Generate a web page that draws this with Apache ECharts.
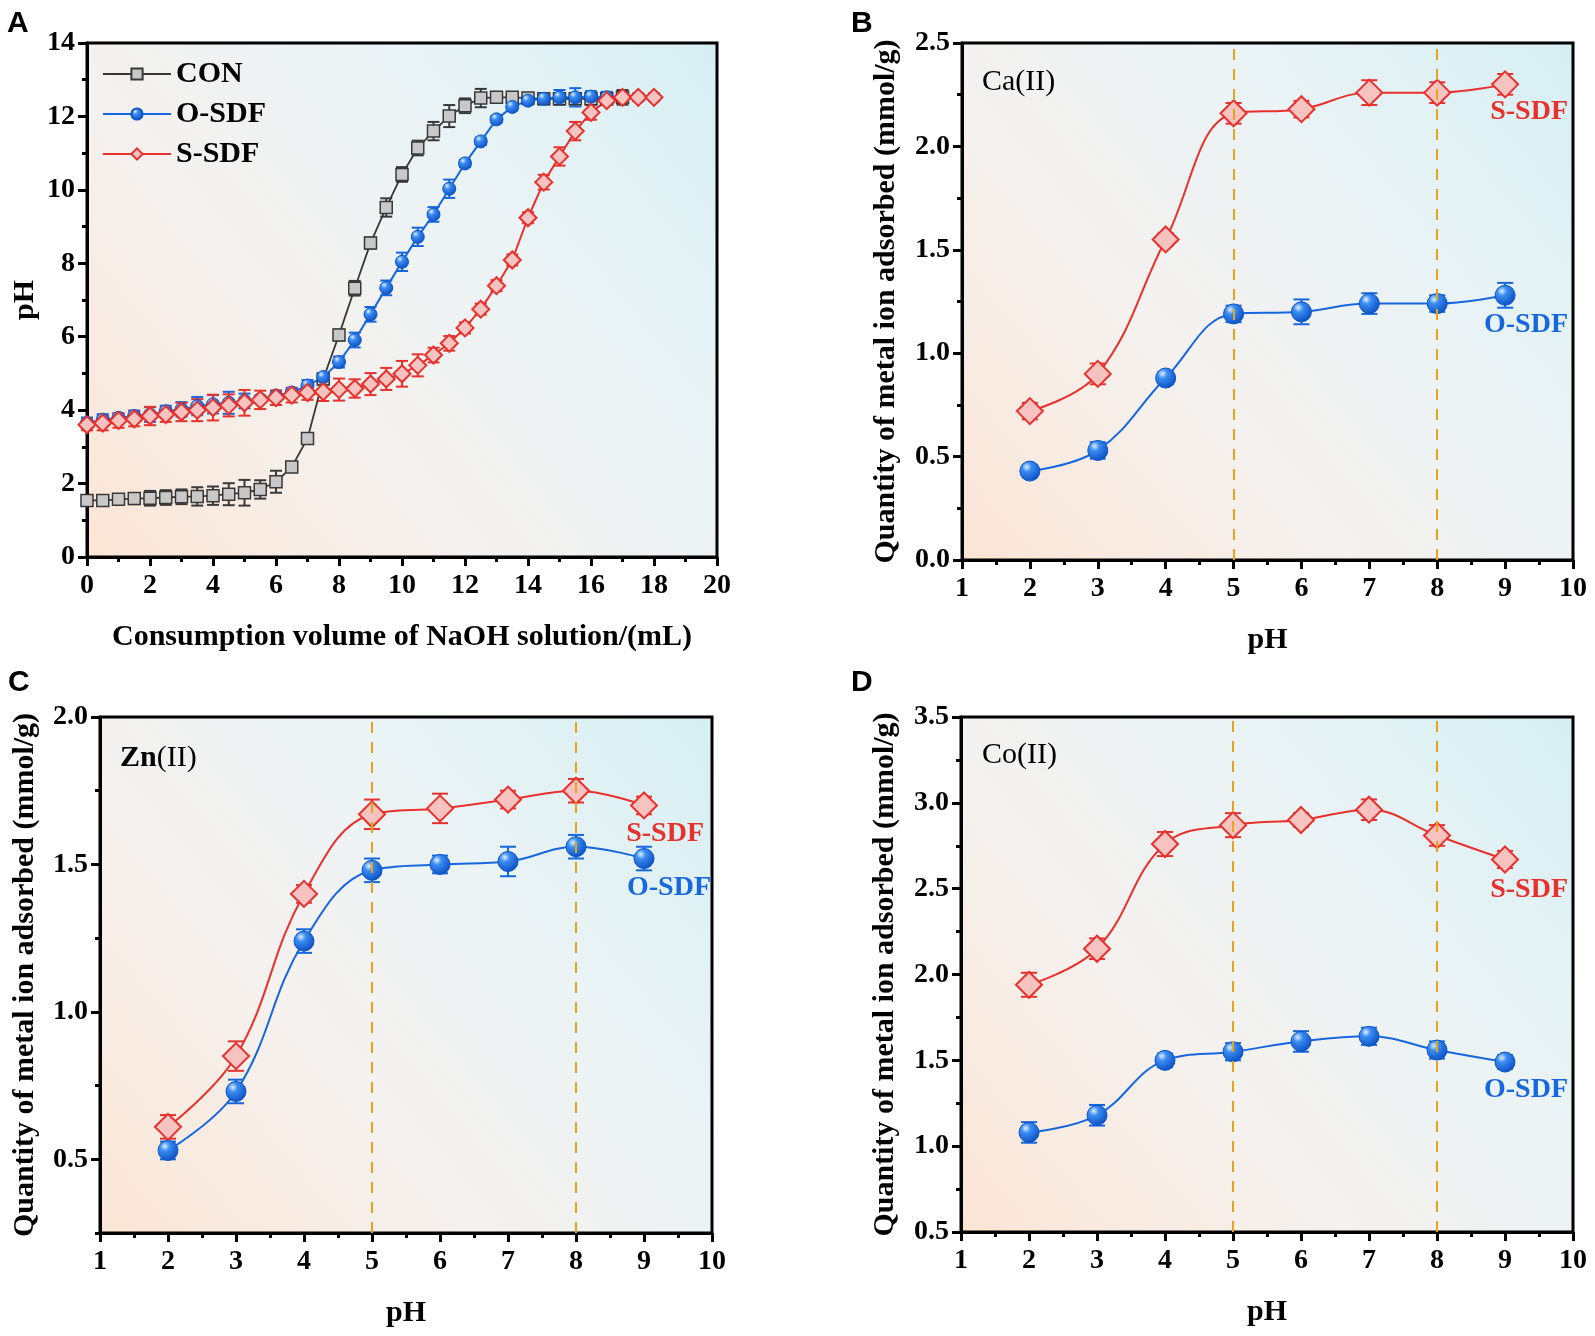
<!DOCTYPE html>
<html>
<head>
<meta charset="utf-8">
<script src="https://cdn.jsdelivr.net/npm/echarts@6.0.0/dist/echarts.min.js"></script>
<style>
html,body{margin:0;padding:0;background:#fff;}
#main{width:1595px;height:1336px;}
</style>
</head>
<body>
<div id="main"></div>
<script>
// A: titration curves (pH vs NaOH volume)
var volA = [0,0.5,1,1.5,2,2.5,3,3.5,4,4.5,5,5.5,6,6.5,7,7.5,8,8.5,9,9.5,10,10.5,11,11.5,12,12.5,13,13.5,14,14.5,15,15.5,16,16.5,17,17.5,18];
var conA = [1.54,1.54,1.57,1.59,1.60,1.62,1.64,1.65,1.67,1.71,1.75,1.84,2.05,2.45,3.23,4.85,6.05,7.32,8.55,9.52,10.42,11.14,11.60,12.01,12.29,12.50,12.52,12.52,12.50,12.48,12.48,12.48,12.48,12.48,12.52];
var conAErr = [0.05,0.05,0.08,0.15,0.2,0.2,0.2,0.25,0.25,0.3,0.35,0.25,0.3,0.1,0.1,0.15,0.15,0.2,0.15,0.25,0.2,0.2,0.25,0.3,0.2,0.25,0.1,0.1,0.1,0.1,0.15,0.15,0.15,0.15,0.2];
var osdfA = [3.65,3.74,3.79,3.84,3.88,3.97,4.02,4.11,4.16,4.20,4.25,4.30,4.39,4.48,4.67,4.90,5.31,5.91,6.61,7.33,8.04,8.72,9.33,10.03,10.72,11.32,11.92,12.26,12.43,12.48,12.52,12.52,12.54,12.52,12.52,12.52,12.52];
var osdfAErr = [0.15,0.15,0.1,0.15,0.2,0.15,0.2,0.25,0.25,0.3,0.2,0.1,0.1,0.1,0.15,0.1,0.15,0.2,0.2,0.2,0.25,0.25,0.2,0.25,0.1,0.1,0.1,0.1,0.1,0.15,0.2,0.25,0.15,0.15,0.1,0.1,0.1];
var ssdfA = [3.60,3.65,3.72,3.76,3.84,3.88,3.95,4.00,4.07,4.13,4.20,4.28,4.34,4.41,4.48,4.50,4.56,4.59,4.71,4.85,4.99,5.22,5.50,5.82,6.24,6.75,7.39,8.09,9.24,10.21,10.91,11.60,12.11,12.43,12.52,12.52,12.52];
var ssdfAErr = [0.15,0.2,0.2,0.2,0.25,0.2,0.25,0.3,0.35,0.3,0.35,0.25,0.2,0.2,0.2,0.25,0.3,0.25,0.3,0.3,0.35,0.3,0.2,0.2,0.15,0.15,0.15,0.15,0.15,0.2,0.25,0.25,0.2,0.1,0.1,0.1,0.1];

// B-D: adsorption vs pH
var phs = [2,3,4,5,6,7,8,9];
var caS = [0.72,0.90,1.55,2.16,2.18,2.26,2.26,2.30];
var caSErr = [0.04,0.05,0.03,0.05,0.04,0.06,0.05,0.05];
var caO = [0.43,0.53,0.88,1.19,1.20,1.24,1.24,1.28];
var caOErr = [0.03,0.04,0.03,0.04,0.06,0.05,0.04,0.06];
var znS = [0.61,0.85,1.40,1.67,1.69,1.72,1.75,1.70];
var znSErr = [0.04,0.05,0.03,0.05,0.05,0.03,0.04,0.03];
var znO = [0.53,0.73,1.24,1.48,1.50,1.51,1.56,1.52];
var znOErr = [0.03,0.04,0.04,0.04,0.03,0.05,0.04,0.04];
var coS = [1.94,2.15,2.76,2.87,2.90,2.96,2.81,2.67];
var coSErr = [0.07,0.06,0.07,0.07,0.04,0.06,0.06,0.05];
var coO = [1.08,1.18,1.50,1.55,1.61,1.64,1.56,1.49];
var coOErr = [0.06,0.06,0.04,0.05,0.06,0.05,0.05,0.04];
var markPH = [5, 8];
var znTicks = [0.5, 1.0, 1.5, 2.0];

var SERIF = '"Liberation Serif","Times New Roman",serif';
var RED = '#e8302c', PINK = '#f7c3c1', BLUE = '#1667df', GRAY = '#383838';
var blueBall = new echarts.graphic.RadialGradient(0.35, 0.3, 0.75, [
    {offset: 0, color: '#e2f0ff'}, {offset: 0.3, color: '#3a8df2'}, {offset: 1, color: '#0a4cc0'}
]);

var chart = echarts.init(document.getElementById('main'));

function pairs(xs, ys) {
    var out = [];
    for (var i = 0; i < ys.length; i++) out.push([xs[i], ys[i]]);
    return out;
}
function triples(xs, ys, es) {
    var out = [];
    for (var i = 0; i < ys.length; i++) out.push([xs[i], ys[i], es[i]]);
    return out;
}
//误差线
function errBars(name, gi, yi, data, color, cap) {
    return {
        name: name, type: 'custom', xAxisIndex: gi, yAxisIndex: yi, z: 2, silent: true,
        data: data, encode: {x: 0, y: 1},
        renderItem: function (params, api) {
            var x = api.value(0), y = api.value(1), e = api.value(2);
            var t = api.coord([x, y + e]), b = api.coord([x, y - e]);
            var st = {stroke: color, lineWidth: 2};
            return {type: 'group', children: [
                {type: 'line', shape: {x1: t[0], y1: t[1], x2: b[0], y2: b[1]}, style: st},
                {type: 'line', shape: {x1: t[0] - cap, y1: t[1], x2: t[0] + cap, y2: t[1]}, style: st},
                {type: 'line', shape: {x1: b[0] - cap, y1: b[1], x2: b[0] + cap, y2: b[1]}, style: st}
            ]};
        }
    };
}
var bg = function () {
    return new echarts.graphic.LinearGradient(0, 1, 1, 0, [
        {offset: 0, color: '#fbe5d5'}, {offset: 0.35, color: '#f5f1ee'},
        {offset: 0.65, color: '#ebf3f5'}, {offset: 1, color: '#d6eff3'}
    ]);
};
function grid(l, t, w, h) {
    return {left: l, top: t, width: w, height: h, show: true, borderColor: '#000', borderWidth: 3,
        backgroundColor: bg(), containLabel: false, outerBoundsMode: 'none'};
}
var axisLine = {show: true, onZero: false, lineStyle: {color: '#000', width: 3}};
var labelStyle = {color: '#000', fontFamily: SERIF, fontWeight: 'bold', fontSize: 28};
var titleStyle = {color: '#000', fontFamily: SERIF, fontWeight: 'bold', fontSize: 30};

function xAx(gi, min, max, step, name, gap) {
    return {type: 'value', gridIndex: gi, min: min, max: max, interval: step,
        name: name, nameLocation: 'middle', nameGap: gap, nameTextStyle: titleStyle,
        axisLine: axisLine,
        axisTick: {show: true, length: 9, lineStyle: {color: '#000', width: 3}},
        minorTick: {show: true, splitNumber: 2, length: 5, lineStyle: {color: '#000', width: 3}},
        axisLabel: Object.assign({margin: 15}, labelStyle),
        splitLine: {show: false}};
}
function yAx(gi, min, max, step, name, gap, dec) {
    return {type: 'value', gridIndex: gi, min: min, max: max, interval: step,
        name: name, nameLocation: 'middle', nameGap: gap, nameTextStyle: titleStyle,
        axisLine: axisLine,
        axisTick: {show: true, length: 9, lineStyle: {color: '#000', width: 3}},
        minorTick: {show: true, splitNumber: 2, length: 5, lineStyle: {color: '#000', width: 3}},
        axisLabel: Object.assign({margin: 12, formatter: function (v) { return v.toFixed(dec); }}, labelStyle),
        splitLine: {show: false}};
}
var QTY = 'Quantity of metal ion adsorbed (mmol/g)';

var yC = yAx(2, 0.25, 2.0, null, QTY, 60, 1);
delete yC.interval;
yC.minorTick = {show: false};
yC.axisTick.customValues = znTicks;
yC.axisLabel.customValues = znTicks;
// 面板C的小刻度 (0.25, 0.75, ...)
var yCminor = {type: 'value', gridIndex: 2, min: 0, max: 1.75, interval: 0.5, position: 'left',
    axisLine: {show: false}, axisLabel: {show: false}, splitLine: {show: false},
    axisTick: {show: true, length: 5, lineStyle: {color: '#000', width: 3}}};

function lineS(name, gi, yi, data, kind, big) {
    var s = {name: name, type: 'line', xAxisIndex: gi, yAxisIndex: yi, data: data, z: 3,
        smooth: gi === 0 ? false : 0.4, showSymbol: true, clip: false};
    if (kind === 'con') {
        s.symbol = 'rect'; s.symbolSize = 12;
        s.lineStyle = {color: GRAY, width: 1.8};
        s.itemStyle = {color: '#c8c8c8', borderColor: GRAY, borderWidth: 1.5};
    } else if (kind === 'o') {
        s.symbol = 'circle'; s.symbolSize = big ? 20 : 13;
        s.lineStyle = {color: BLUE, width: 2};
        s.itemStyle = {color: blueBall, borderColor: '#0d55c8', borderWidth: 1};
    } else {
        s.symbol = 'diamond'; s.symbolSize = big ? 26 : 17;
        s.lineStyle = {color: RED, width: 2};
        s.itemStyle = {color: PINK, borderColor: RED, borderWidth: 2};
    }
    return s;
}
function vLines() {
    return {silent: true, symbol: 'none', label: {show: false},
        lineStyle: {color: '#e8a31c', type: [11, 9], width: 2},
        data: markPH.map(function (p) { return {xAxis: p}; })};
}

var series = [
    lineS('CON', 0, 0, pairs(volA, conA), 'con'),
    lineS('O-SDF', 0, 0, pairs(volA, osdfA), 'o'),
    lineS('S-SDF', 0, 0, pairs(volA, ssdfA), 's'),
    errBars('conErr', 0, 0, triples(volA, conA, conAErr), GRAY, 6),
    errBars('oErrA', 0, 0, triples(volA, osdfA, osdfAErr), BLUE, 6),
    errBars('sErrA', 0, 0, triples(volA, ssdfA, ssdfAErr), RED, 6)
];
[[1, caS, caSErr, caO, caOErr], [2, znS, znSErr, znO, znOErr], [3, coS, coSErr, coO, coOErr]].forEach(function (p) {
    var sl = lineS('S-SDF', p[0], p[0], pairs(phs, p[1]), 's', true);
    sl.markLine = vLines();
    series.push(sl);
    series.push(lineS('O-SDF', p[0], p[0], pairs(phs, p[3]), 'o', true));
    series.push(errBars('sErr' + p[0], p[0], p[0], triples(phs, p[1], p[2]), RED, 8));
    series.push(errBars('oErr' + p[0], p[0], p[0], triples(phs, p[3], p[4]), BLUE, 8));
});

function txt(x, y, text, font, fill, align, rich) {
    var st = {text: text, font: font, fill: fill, align: align || 'left', verticalAlign: 'middle',
        textAlign: align || 'left', textVerticalAlign: 'middle'};
    if (rich) st.rich = rich;
    return {type: 'text', x: x, y: y, z: 100, style: st};
}
var LET = 'bold 30px "Liberation Sans",Arial,sans-serif';
var LAB = 'bold 28px ' + SERIF;
var ionRich = {
    b: {font: 'bold 30px ' + SERIF, fill: '#000'},
    n: {font: '30px ' + SERIF, fill: '#000'}
};

var option = {
    backgroundColor: '#fff',
    animation: false,
    grid: [grid(87, 43, 630, 514), grid(962, 43, 611, 517), grid(100, 717, 612, 516), grid(961, 717, 612, 515)],
    xAxis: [
        xAx(0, 0, 20, 2, 'Consumption volume of NaOH solution/(mL)', 65),
        xAx(1, 1, 10, 1, 'pH', 65),
        xAx(2, 1, 10, 1, 'pH', 65),
        xAx(3, 1, 10, 1, 'pH', 65)
    ],
    yAxis: [
        yAx(0, 0, 14, 2, 'pH', 47, 0),
        yAx(1, 0, 2.5, 0.5, QTY, 61, 1),
        yC,
        yAx(3, 0.5, 3.5, 0.5, QTY, 61, 1),
        yCminor
    ],
    legend: {
        data: ['CON', 'O-SDF', 'S-SDF'], orient: 'vertical', left: 97, top: 54,
        itemWidth: 68, itemHeight: 14, itemGap: 10, selectedMode: false,
        textStyle: {color: '#000', fontFamily: SERIF, fontWeight: 'bold', fontSize: 30}
    },
    graphic: [
        txt(7, 24, 'A', LET, '#000'),
        txt(851, 24, 'B', LET, '#000'),
        txt(8, 683, 'C', LET, '#000'),
        txt(851, 683, 'D', LET, '#000'),
        txt(982, 82, '{n|Ca(II)}', LAB, '#000', 'left', ionRich),
        txt(120, 758, '{b|Zn}{n|(II)}', LAB, '#000', 'left', ionRich),
        txt(982, 755, '{n|Co(II)}', LAB, '#000', 'left', ionRich),
        txt(1568, 112, 'S-SDF', LAB, RED, 'right'),
        txt(1568, 325, 'O-SDF', LAB, BLUE, 'right'),
        txt(704, 834, 'S-SDF', LAB, RED, 'right'),
        txt(711, 888, 'O-SDF', LAB, BLUE, 'right'),
        txt(1568, 890, 'S-SDF', LAB, RED, 'right'),
        txt(1568, 1090, 'O-SDF', LAB, BLUE, 'right')
    ],
    series: series
};
chart.setOption(option);
</script>
</body>
</html>
